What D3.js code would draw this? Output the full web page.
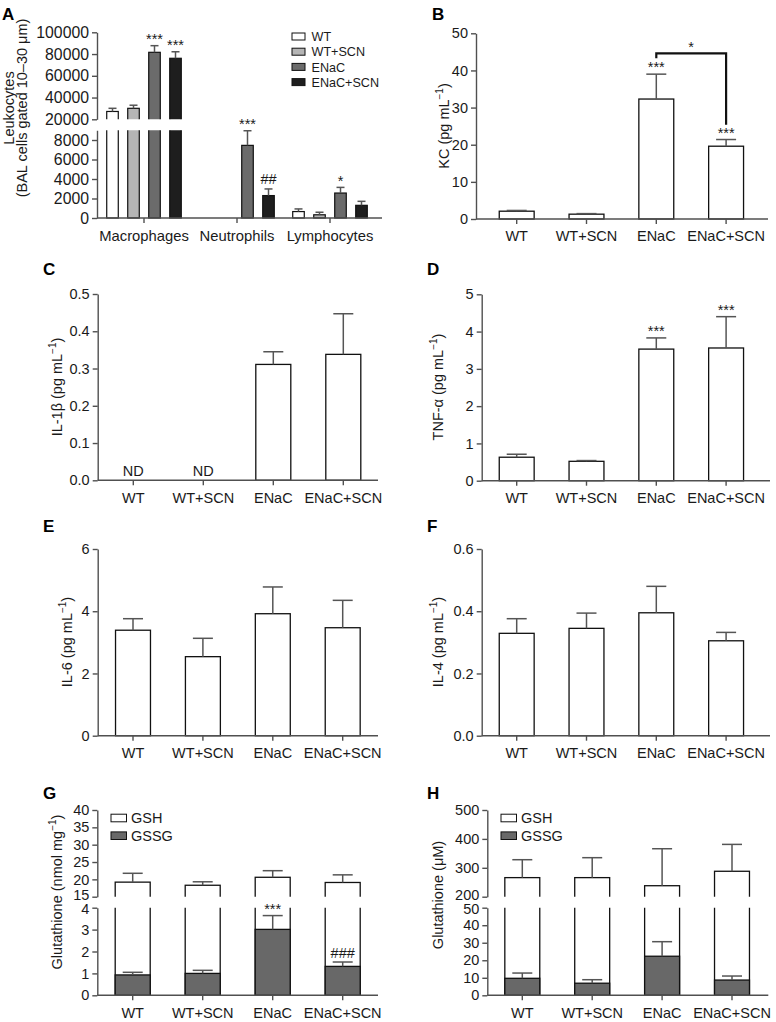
<!DOCTYPE html>
<html><head><meta charset="utf-8">
<script src="https://cdn.jsdelivr.net/npm/d3@7"></script>
<style>
body{margin:0;background:#fff;}
svg{display:block;font-family:"Liberation Sans",Arial,Helvetica,sans-serif;}
</style></head><body>
<svg id="chart" width="776" height="1022"></svg>
<script>
// ---------------- DATA ----------------
const categories = ["WT", "WT+SCN", "ENaC", "ENaC+SCN"];
const seriesColors = ["#ffffff", "#b5b5b5", "#6b6b6b", "#1e1e1e"];

// Panel A
const cellTypes = ["Macrophages", "Neutrophils", "Lymphocytes"];
const macrophageMean = [27200, 30100, 81600, 76100];
const macrophageSEM  = [2900, 2850, 6100, 6000];
const neutrophilMean = [0, 0, 7450, 2300];
const neutrophilSEM  = [0, 0, 1500, 680];
const lymphocyteMean = [660, 330, 2560, 1300];
const lymphocyteSEM  = [270, 260, 580, 410];
const leukoSig = [["", "", "***", "***"], ["", "", "***", "##"], ["", "", "*", ""]];
const leukoTicksHigh = [20000, 40000, 60000, 80000, 100000];
const leukoTicksLow = [0, 2000, 4000, 6000, 8000];

// Panel B
const kcMean = [2.1, 1.3, 32.3, 19.6];
const kcSEM  = [0.2, 0.15, 6.7, 1.8];
const kcSig  = ["", "", "***", "***"];
const kcTicks = [0, 10, 20, 30, 40, 50];

// Panel C
const il1bMean = [null, null, 0.311, 0.338];
const il1bSEM  = [null, null, 0.034, 0.109];
const il1bNote = ["ND", "ND", "", ""];
const il1bTicks = [0, 0.1, 0.2, 0.3, 0.4, 0.5];

// Panel D
const tnfMean = [0.63, 0.52, 3.53, 3.56];
const tnfSEM  = [0.08, 0.02, 0.30, 0.84];
const tnfSig  = ["", "", "***", "***"];
const tnfTicks = [0, 1, 2, 3, 4, 5];

// Panel E
const il6Mean = [3.39, 2.54, 3.92, 3.47];
const il6SEM  = [0.37, 0.59, 0.86, 0.88];
const il6Ticks = [0, 2, 4, 6];

// Panel F
const il4Mean = [0.329, 0.345, 0.395, 0.305];
const il4SEM  = [0.047, 0.049, 0.085, 0.027];
const il4Ticks = [0, 0.2, 0.4, 0.6];

// Panel G (lung tissue glutathione)
const gshTissueMean  = [19.2, 18.3, 20.6, 19.1];
const gshTissueSEM   = [2.55, 1.0, 1.9, 2.2];
const gssgTissueMean = [0.93, 1.0, 3.01, 1.32];
const gssgTissueSEM  = [0.12, 0.14, 0.63, 0.2];
const gssgTissueSig  = ["", "", "***", "###"];
const tissueTicksLow  = [0, 1, 2, 3, 4];
const tissueTicksHigh = [15, 20, 25, 30, 35, 40];

// Panel H (BAL glutathione)
const gshBalMean  = [266, 266, 238, 288];
const gshBalSEM   = [62, 69, 128, 93];
const gssgBalMean = [9.7, 6.9, 22.3, 8.7];
const gssgBalSEM  = [3.0, 2.0, 8.3, 2.3];
const balTicksLow  = [0, 10, 20, 30, 40, 50];
const balTicksHigh = [200, 300, 400, 500];

const glutLegend = ["GSH", "GSSG"];
const glutColors = ["#ffffff", "#686868"];

// ---------------- DRAWING ----------------
const svg = d3.select("#chart");
const AX = "#505050", TXT = "#1a1a1a", ERR = "#555", FS = 14.5;

function styleAxis(ax, fs) {
  ax.attr("font-family", null).attr("font-size", fs || FS);
  ax.selectAll("path.domain").attr("stroke", AX).attr("stroke-width", 1.4);
  ax.selectAll(".tick line").attr("stroke", AX).attr("stroke-width", 1.4);
  ax.selectAll(".tick text").attr("fill", TXT);
}
function yAxis(g, scale, ticks, fmt, x, fs, nudge) {
  const ax = g.append("g").attr("transform", `translate(${x},0)`)
    .call(d3.axisLeft(scale).tickValues(ticks).tickFormat(fmt).tickSize(5).tickSizeOuter(0).tickPadding(3));
  styleAxis(ax, fs);
  if (nudge) ax.selectAll(".tick text").attr("y", d => nudge(d));
}
function xAxis(g, scale, y, x0, x1, fs) {
  const ax = g.append("g").attr("transform", `translate(0,${y})`)
    .call(d3.axisBottom(scale).tickSize(5).tickSizeOuter(0).tickPadding(7));
  ax.select("path.domain").remove();
  ax.append("line").attr("x1", x0).attr("x2", x1).attr("y1", 0).attr("y2", 0)
    .attr("stroke", AX).attr("stroke-width", 1.4);
  styleAxis(ax, fs);
}
function panelLabel(t, x, y) {
  svg.append("text").attr("x", x).attr("y", y).text(t)
    .attr("font-weight", "bold").attr("font-size", 17).attr("fill", "#000");
}
function yTitle(x, cy, lines) {
  lines.forEach((parts, li) => {
    const t = svg.append("text").attr("transform", `translate(${x[li]},${cy}) rotate(-90)`)
      .attr("text-anchor", "middle").attr("font-size", FS).attr("fill", TXT);
    parts.forEach(p => {
      if (p.sup) {
        t.append("tspan").attr("font-size", 10).attr("dy", -6).text(p.t);
      } else {
        t.append("tspan").attr("dy", p.after ? 6 : 0).text(p.t);
      }
    });
  });
}
const unit = lbl => [[{t: lbl + " (pg mL"}, {t: "\u22121", sup: true}, {t: ")", after: true}]];

function errBar(g, cx, yBase, yTop, capW) {
  g.append("line").attr("x1", cx).attr("x2", cx).attr("y1", yBase).attr("y2", yTop)
    .attr("stroke", ERR).attr("stroke-width", 1.5);
  g.append("line").attr("x1", cx - capW / 2).attr("x2", cx + capW / 2).attr("y1", yTop).attr("y2", yTop)
    .attr("stroke", ERR).attr("stroke-width", 1.5);
}
function sigText(g, cx, yCenter, s) {
  if (!s) return;
  const isStar = s.indexOf("*") >= 0;
  g.append("text").attr("x", cx).attr("y", yCenter + (isStar ? 8.3 : 5.5)).attr("text-anchor", "middle")
    .attr("font-size", FS).attr("fill", TXT).text(s);
}

function barPanel(o) {
  const g = svg.append("g");
  const y = d3.scaleLinear().domain([0, o.max]).range([o.yb, o.yt]);
  const x = d3.scaleBand().domain(categories)
    .range([o.c0 - o.step / 2, o.c0 + 3.5 * o.step]).paddingInner(0.5).paddingOuter(0.25);
  const data = categories.map((c, i) => ({c, m: o.mean[i], s: o.sem[i], sig: o.sig ? o.sig[i] : "", note: o.note ? o.note[i] : ""}));
  const shown = data.filter(d => d.m != null);
  g.selectAll("rect.bar").data(shown).join("rect").attr("class", "bar")
    .attr("x", d => x(d.c)).attr("width", x.bandwidth())
    .attr("y", d => y(d.m)).attr("height", d => y(0) - y(d.m))
    .attr("fill", "#fff").attr("stroke", "#111").attr("stroke-width", 1.3);
  shown.forEach(d => {
    const cx = x(d.c) + x.bandwidth() / 2;
    errBar(g, cx, y(d.m), y(d.m + d.s), 20);
    sigText(g, cx, y(d.m + d.s) - 10, d.sig);
  });
  data.filter(d => d.note).forEach(d => {
    g.append("text").attr("x", x(d.c) + x.bandwidth() / 2).attr("y", y(0) - 4.5)
      .attr("text-anchor", "middle").attr("font-size", FS).attr("fill", TXT).text(d.note);
  });
  yAxis(g, y, o.ticks, o.fmt, o.x0);
  xAxis(g, x, o.yb, o.x0, o.x1);
  return {g, x, y};
}

// ---- Panel A ----
(function () {
  const g = svg.append("g");
  const x0 = 97, x1 = 382;
  const xg = d3.scaleBand().domain(cellTypes).range([97.5, 376.5]);
  const xi = d3.scaleBand().domain(categories).range([-42, 42]).paddingInner(0.45).paddingOuter(0.225);
  const yLo = d3.scaleLinear().domain([0, 9000]).range([218, 130.25]);
  const yHi = d3.scaleLinear().domain([20000, 100000]).range([119.3, 32.3]);
  const defs = svg.append("defs");
  defs.append("clipPath").attr("id", "clipAlo").append("rect").attr("x", 0).attr("width", 776)
    .attr("y", yLo(9000)).attr("height", yLo(0) - yLo(9000) + 3);
  defs.append("clipPath").attr("id", "clipAhi").append("rect").attr("x", 0).attr("width", 776)
    .attr("y", 0).attr("height", yHi(20000));
  const lo = g.append("g").attr("clip-path", "url(#clipAlo)");
  const hi = g.append("g").attr("clip-path", "url(#clipAhi)");
  const means = [macrophageMean, neutrophilMean, lymphocyteMean];
  const sems = [macrophageSEM, neutrophilSEM, lymphocyteSEM];
  const bw = xi.bandwidth();
  cellTypes.forEach((ct, gi) => {
    categories.forEach((c, si) => {
      const m = means[gi][si], s = sems[gi][si];
      if (!m) return;
      const bx = xg(ct) + xg.bandwidth() / 2 + xi(c);
      const cx = bx + bw / 2;
      let errTop;
      if (m > 9000) {
        lo.append("rect").attr("x", bx).attr("width", bw).attr("y", yLo(9000) - 6).attr("height", yLo(0) - yLo(9000) + 6)
          .attr("fill", seriesColors[si]).attr("stroke", "#111").attr("stroke-width", 1.2);
        hi.append("rect").attr("x", bx).attr("width", bw).attr("y", yHi(m)).attr("height", yHi(20000) - yHi(m) + 6)
          .attr("fill", seriesColors[si]).attr("stroke", "#111").attr("stroke-width", 1.2);
        errTop = yHi(m + s);
        errBar(g, cx, yHi(m), errTop, 8);
      } else {
        lo.append("rect").attr("x", bx).attr("width", bw).attr("y", yLo(m)).attr("height", yLo(0) - yLo(m))
          .attr("fill", seriesColors[si]).attr("stroke", "#111").attr("stroke-width", 1.2);
        errTop = yLo(m + s);
        errBar(g, cx, yLo(m), errTop, 8);
      }
      sigText(g, cx, errTop - 10, leukoSig[gi][si]);
    });
  });
  yAxis(g, yLo, leukoTicksLow, d3.format("d"), x0, 15.8);
  yAxis(g, yHi, leukoTicksHigh, d3.format("d"), x0, 15.8);
  xAxis(g, xg, 218, x0, x1, 14.8);
  // legend
  const lg = g.append("g");
  categories.forEach((c, i) => {
    const ly = 36.5 + i * 15.2;
    lg.append("rect").attr("x", 292).attr("y", ly - 3.5).attr("width", 13).attr("height", 7)
      .attr("fill", seriesColors[i]).attr("stroke", "#111").attr("stroke-width", 1);
    lg.append("text").attr("x", 311.5).attr("y", ly + 4.6).attr("font-size", 12.6).attr("fill", TXT).text(c);
  });
  panelLabel("A", 2, 20);
  yTitle([13.5, 27], 108, [[{t: "Leukocytes"}], [{t: "(BAL cells gated 10\u201330 \u03bcm)"}]]);
})();

// ---- Panel B ----
(function () {
  const p = barPanel({x0: 476, x1: 768, c0: 516.7, step: 69.8, yb: 219, yt: 33.3, max: 50,
    ticks: kcTicks, fmt: d3.format("d"), mean: kcMean, sem: kcSEM, sig: kcSig});
  const cA = p.x(categories[2]) + p.x.bandwidth() / 2;
  const cB = p.x(categories[3]) + p.x.bandwidth() / 2;
  const yb = p.y(44.6);
  p.g.append("path").attr("d", `M${cA},${p.y(43.3)}V${yb}H${cB}V${p.y(25.4)}`)
    .attr("fill", "none").attr("stroke", "#111").attr("stroke-width", 2.2);
  sigText(p.g, (cA + cB) / 2, yb - 10, "*");
  panelLabel("B", 432, 20);
  yTitle([448.5], 126, unit("KC"));
})();

// ---- Panel C ----
barPanel({x0: 97.7, x1: 378, c0: 133.3, step: 70, yb: 480.3, yt: 294, max: 0.5,
  ticks: il1bTicks, fmt: d3.format(".1f"), mean: il1bMean, sem: il1bSEM, note: il1bNote});
panelLabel("C", 43, 275);
yTitle([62], 387, [[{t: "IL-1\u03b2 (pg mL"}, {t: "\u22121", sup: true}, {t: ")", after: true}]]);

// ---- Panel D ----
barPanel({x0: 481.7, x1: 770, c0: 516.7, step: 69.8, yb: 480.7, yt: 294.3, max: 5,
  ticks: tnfTicks, fmt: d3.format("d"), mean: tnfMean, sem: tnfSEM, sig: tnfSig});
panelLabel("D", 427, 275);
yTitle([443], 387, [[{t: "TNF-\u03b1 (pg mL"}, {t: "\u22121", sup: true}, {t: ")", after: true}]]);

// ---- Panel E ----
barPanel({x0: 97.7, x1: 378, c0: 133, step: 69.9, yb: 735.7, yt: 549, max: 6,
  ticks: il6Ticks, fmt: d3.format("d"), mean: il6Mean, sem: il6SEM});
panelLabel("E", 43, 532);
yTitle([72], 642, unit("IL-6"));

// ---- Panel F ----
barPanel({x0: 481.7, x1: 770, c0: 516.7, step: 69.8, yb: 735.7, yt: 549, max: 0.6,
  ticks: il4Ticks, fmt: d3.format(".1f"), mean: il4Mean, sem: il4SEM});
panelLabel("F", 427, 532);
yTitle([443], 642, unit("IL-4"));

// ---- Panels G & H (broken axes) ----
function brokenPanel(o) {
  const g = svg.append("g");
  const x = d3.scaleBand().domain(categories)
    .range([o.c0 - o.step / 2, o.c0 + 3.5 * o.step]).paddingInner(0.5).paddingOuter(0.25);
  const yLo = d3.scaleLinear().domain(o.loDom).range([995.3, 907.7]);
  const yHi = d3.scaleLinear().domain(o.hiDom).range([896.7, 810]);
  const defs = svg.append("defs");
  defs.append("clipPath").attr("id", o.id + "lo").append("rect").attr("x", 0).attr("width", 776)
    .attr("y", yLo(o.loDom[1])).attr("height", yLo(0) - yLo(o.loDom[1]) + 3);
  defs.append("clipPath").attr("id", o.id + "hi").append("rect").attr("x", 0).attr("width", 776)
    .attr("y", 700).attr("height", yHi(o.hiDom[0]) - 700);
  const lo = g.append("g").attr("clip-path", `url(#${o.id}lo)`);
  const hi = g.append("g").attr("clip-path", `url(#${o.id}hi)`);
  const bw = x.bandwidth();
  categories.forEach((c, i) => {
    const bx = x(c), cx = bx + bw / 2;
    const m = o.gsh[i], s = o.gshSem[i];
    lo.append("rect").attr("x", bx).attr("width", bw).attr("y", yLo(o.loDom[1]) - 6)
      .attr("height", yLo(0) - yLo(o.loDom[1]) + 6).attr("fill", glutColors[0]).attr("stroke", "#111").attr("stroke-width", 1.3);
    hi.append("rect").attr("x", bx).attr("width", bw).attr("y", yHi(m))
      .attr("height", yHi(o.hiDom[0]) - yHi(m) + 6).attr("fill", glutColors[0]).attr("stroke", "#111").attr("stroke-width", 1.3);
    errBar(g, cx, yHi(m), yHi(m + s), 20);
    const gm = o.gssg[i], gs = o.gssgSem[i];
    lo.append("rect").attr("x", bx).attr("width", bw).attr("y", yLo(gm)).attr("height", yLo(0) - yLo(gm))
      .attr("fill", glutColors[1]).attr("stroke", "#111").attr("stroke-width", 1.3);
    errBar(g, cx, yLo(gm), yLo(gm + gs), 20);
    if (o.sig) sigText(g, cx, yLo(gm + gs) - 10, o.sig[i]);
  });
  const top = o.loDom[1], bottom = o.hiDom[0];
  yAxis(g, yLo, o.ticksLo, d3.format("d"), o.x0, FS, d => (d === top ? 1.5 : 0));
  yAxis(g, yHi, o.ticksHi, d3.format("d"), o.x0, FS, d => (d === bottom ? -1.5 : 0));
  xAxis(g, x, 995.3, o.x0, o.x1);
  glutLegend.forEach((t, i) => {
    const ly = 818 + i * 17.7;
    g.append("rect").attr("x", o.lx).attr("y", ly - 3.8).attr("width", 15.5).attr("height", 7.6)
      .attr("fill", glutColors[i]).attr("stroke", "#111").attr("stroke-width", 1);
    g.append("text").attr("x", o.lx + 20).attr("y", ly + 5.2).attr("font-size", FS).attr("fill", TXT).text(t);
  });
}
brokenPanel({id: "g", x0: 97.3, x1: 378, c0: 132.7, step: 70, loDom: [0, 4], hiDom: [15, 40],
  ticksLo: tissueTicksLow, ticksHi: tissueTicksHigh, gsh: gshTissueMean, gshSem: gshTissueSEM,
  gssg: gssgTissueMean, gssgSem: gssgTissueSEM, sig: gssgTissueSig, lx: 111});
panelLabel("G", 43, 799);
yTitle([62], 892, [[{t: "Glutathione (nmol mg"}, {t: "\u22121", sup: true}, {t: ")", after: true}]]);

brokenPanel({id: "h", x0: 487.3, x1: 768.3, c0: 522.3, step: 69.9, loDom: [0, 50], hiDom: [200, 500],
  ticksLo: balTicksLow, ticksHi: balTicksHigh, gsh: gshBalMean, gshSem: gshBalSEM,
  gssg: gssgBalMean, gssgSem: gssgBalSEM, lx: 501});
panelLabel("H", 427, 799);
yTitle([443], 895, [[{t: "Glutathione (\u03bcM)"}]]);
</script>
</body></html>
